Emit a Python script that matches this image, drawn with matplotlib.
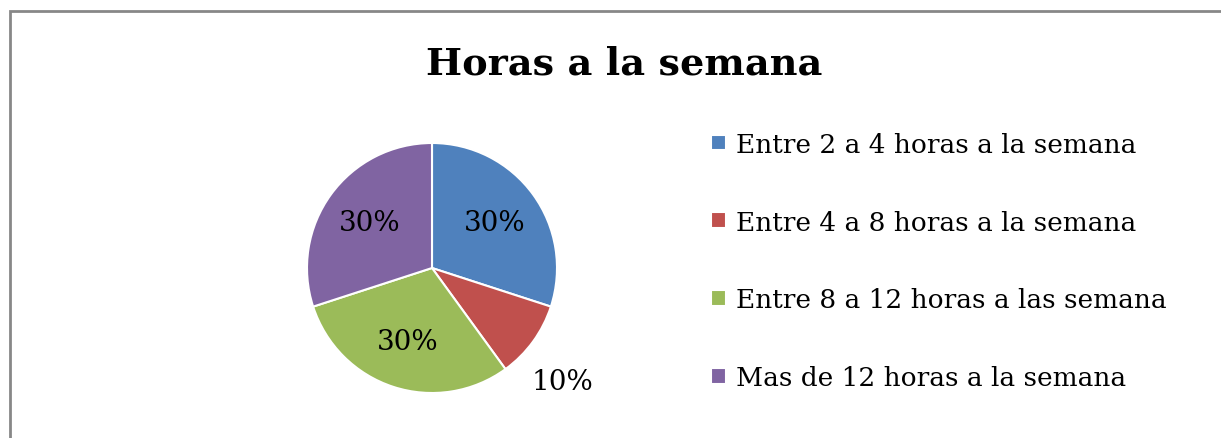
import matplotlib.pyplot as plt
from matplotlib.patches import Rectangle
import numpy as np

# data
categories = ['Entre 2 a 4 horas a la semana',
              'Entre 4 a 8 horas a la semana',
              'Entre 8 a 12 horas a las semana',
              'Mas de 12 horas a la semana']
shares = [30, 10, 30, 30]
colors = ['#4F81BD', '#C0504D', '#9BBB59', '#8064A2']

W, H = 1221, 439
fig = plt.figure(figsize=(W / 100, H / 100), dpi=100)

# grey frame, cut off at the right and bottom like the original
fig.patches.append(Rectangle((10 / W, -0.1), 1.2, 1.1 - 12 / H,
                             transform=fig.transFigure, fill=False,
                             edgecolor='#878787', linewidth=2))

fig.text(624 / W, 1 - 64 / H, 'Horas a la semana', ha='center', va='center',
         family='DejaVu Serif', fontweight='bold', fontsize=27.5)

cx, cy, r = 432, 269, 125
ax = fig.add_axes([(cx - r) / W, (H - cy - r) / H, 2 * r / W, 2 * r / H])
wedges, _ = ax.pie(shares, colors=colors, startangle=90, counterclock=False,
                   wedgeprops=dict(edgecolor='white', linewidth=1.5))
ax.set_xlim(-1, 1)
ax.set_ylim(-1, 1)
ax.set_aspect('equal')

# percentage labels, the small slice sits outside like in Excel
for w, v in zip(wedges, shares):
    mid = np.deg2rad((w.theta1 + w.theta2) / 2)
    dist = 0.62 if v >= 20 else 1.38
    if v < 20:
        mid = np.deg2rad(-41)
    ax.text(dist * np.cos(mid), dist * np.sin(mid), f'{v}%',
            ha='center', va='center', family='DejaVu Serif', fontsize=20)

fig.legend(wedges, categories, loc='center left',
           bbox_to_anchor=(698 / W, 1 - 262 / H), frameon=False,
           prop=dict(family='DejaVu Serif', size=19),
           handlelength=0.55, handleheight=0.55, handletextpad=0.4,
           labelspacing=2.0, borderpad=0)

fig.savefig('out.png', dpi=100)
